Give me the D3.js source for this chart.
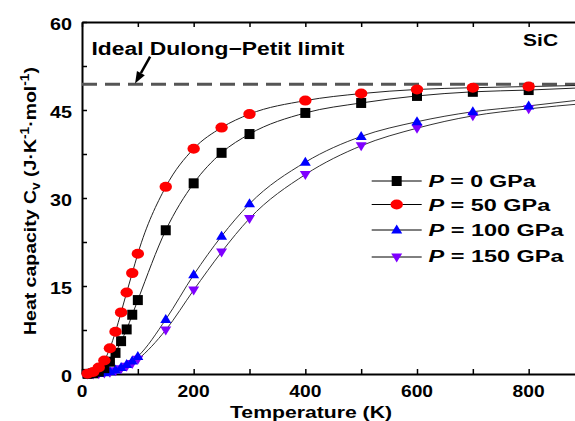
<!DOCTYPE html>
<html>
<head>
<meta charset="utf-8">
<script src="https://cdn.jsdelivr.net/npm/d3@7/dist/d3.min.js"></script>
<style>
html,body{margin:0;padding:0;background:#fff;}
svg{display:block;}
text{font-family:"Liberation Sans",Arial,sans-serif;font-weight:bold;fill:#000;}
</style>
</head>
<body>
<svg id="chart" width="575" height="421"></svg>
<script>
// ---------- data ----------
const temps = [10,20,30,40,50,60,70,80,90,100,150,200,250,300,400,500,600,700,800];
const cv0   = [0.02,0.12,0.4,1.0,2.1,3.6,5.6,7.6,10.1,12.6,24.5,32.5,37.7,40.9,44.5,46.2,47.4,48.1,48.4];
const cv50  = [0.05,0.35,1.1,2.3,4.4,7.2,10.5,13.9,17.2,20.5,31.9,38.4,42.0,44.3,46.6,47.8,48.5,48.8,49.0];
const cv100 = [0.0,0.02,0.08,0.2,0.4,0.7,1.1,1.6,2.2,3.0,9.3,16.9,23.5,29.0,36.1,40.5,43.0,44.7,45.7];
const cv150 = [0.0,0.01,0.06,0.15,0.3,0.55,0.9,1.3,1.8,2.5,7.5,14.3,20.8,26.5,34.0,38.9,41.9,44.0,45.2];
// fitted-curve end values at the right edge (T = 900 K)
const fitEnd = [48.8, 49.2, 46.8, 46.1];
const seriesNames = ["0","50","100","150"];
const xTicks = [0,100,200,300,400,500,600,700,800,900];
const xLabels = [0,200,400,600,800];
const yTicks = [0,7.5,15,22.5,30,37.5,45,52.5,60];
const yLabels = [0,15,30,45,60];
const dulongPetit = 49.4;

// ---------- layout ----------
const svg = d3.select("#chart");
const x = d3.scaleLinear().domain([0,900]).range([82, 584.5]);
const y = d3.scaleLinear().domain([0,60]).range([374, 22]);

const series = [
  {name:seriesNames[0], vals:cv0,   end:fitEnd[0], color:"#000000", shape:"square"},
  {name:seriesNames[1], vals:cv50,  end:fitEnd[1], color:"#ff0000", shape:"circle"},
  {name:seriesNames[2], vals:cv100, end:fitEnd[2], color:"#0000ff", shape:"up"},
  {name:seriesNames[3], vals:cv150, end:fitEnd[3], color:"#7f00ff", shape:"down"}
];

// ---------- axes ----------
const gx = svg.append("g").attr("transform",`translate(0,${y(0)})`)
  .call(d3.axisBottom(x).tickValues(xTicks).tickSizeInner(-5).tickSizeOuter(0).tickFormat(""));
const gxt = svg.append("g").attr("transform",`translate(0,${y(60)})`)
  .call(d3.axisTop(x).tickValues(xTicks).tickSizeInner(-5).tickSizeOuter(0).tickFormat(""));
const gy = svg.append("g").attr("transform",`translate(${x(0)},0)`)
  .call(d3.axisLeft(y).tickValues(yTicks).tickSizeInner(-5).tickSizeOuter(0).tickFormat(""));
[gx,gxt,gy].forEach(g=>{
  g.select(".domain").attr("stroke","#000").attr("stroke-width",2);
  g.selectAll(".tick line").attr("stroke","#000").attr("stroke-width",1.5);
});

// tick labels
svg.append("g").selectAll("text").data(xLabels).join("text")
  .attr("x",d=>x(d)).attr("y",396.5)
  .attr("text-anchor","middle").attr("font-size",17)
  .attr("textLength",d=>String(d).length*10.7).attr("lengthAdjust","spacingAndGlyphs")
  .text(d=>d);
svg.append("g").selectAll("text").data(yLabels).join("text")
  .attr("x",72).attr("y",d=>y(d)+8)
  .attr("text-anchor","end").attr("font-size",17)
  .attr("textLength",d=>String(d).length*11).attr("lengthAdjust","spacingAndGlyphs")
  .text(d=>d);

// axis titles
svg.append("text").attr("x",230).attr("y",418)
  .attr("font-size",17).attr("textLength",162).attr("lengthAdjust","spacingAndGlyphs")
  .text("Temperature (K)");

const yt = svg.append("text")
  .attr("transform","translate(36,201) rotate(-90)")
  .attr("text-anchor","middle").attr("font-size",17)
  .attr("textLength",268).attr("lengthAdjust","spacingAndGlyphs");
yt.append("tspan").text("Heat capacity C");
yt.append("tspan").attr("font-size",12).attr("dy",4).text("v");
yt.append("tspan").attr("dy",-4).text(" (J·K");
yt.append("tspan").attr("font-size",12).attr("dy",-7).text("-1");
yt.append("tspan").attr("dy",7).text("·mol");
yt.append("tspan").attr("font-size",12).attr("dy",-7).text("-1");
yt.append("tspan").attr("dy",7).text(")");

// ---------- Dulong-Petit line ----------
svg.append("line")
  .attr("x1",x(0)).attr("x2",x(900)).attr("y1",y(dulongPetit)).attr("y2",y(dulongPetit))
  .attr("stroke","#555").attr("stroke-width",3).attr("stroke-dasharray","15,8");

svg.append("text").attr("x",x(17)).attr("y",y(54.4))
  .attr("font-size",18).attr("textLength",253).attr("lengthAdjust","spacingAndGlyphs")
  .text("Ideal Dulong\u2212Petit limit");
svg.append("text").attr("x",x(790)).attr("y",y(55.9))
  .attr("font-size",17).attr("textLength",35).attr("lengthAdjust","spacingAndGlyphs")
  .text("SiC");

// arrow
const tail = [x(122), y(54.1)], tip = [x(95), y(dulongPetit+0.1)];
const dx = tip[0]-tail[0], dy = tip[1]-tail[1], L = Math.hypot(dx,dy);
const ux = dx/L, uy = dy/L, px = -uy, py = ux;
const hb = [tip[0]-12*ux, tip[1]-12*uy];
svg.append("line").attr("x1",tail[0]).attr("y1",tail[1]).attr("x2",hb[0]).attr("y2",hb[1])
  .attr("stroke","#000").attr("stroke-width",2.5);
svg.append("path").attr("fill","#000")
  .attr("d",`M${tip[0]},${tip[1]}L${hb[0]+4.5*px},${hb[1]+4.5*py}L${hb[0]-4.5*px},${hb[1]-4.5*py}Z`);

// ---------- curves ----------
const line = d3.line().x(d=>x(d[0])).y(d=>y(d[1])).curve(d3.curveMonotoneX);
const plot = svg.append("g");
series.forEach(s=>{
  const pts = [[0,0]].concat(temps.map((t,i)=>[t,s.vals[i]])).concat([[900,s.end]]);
  plot.append("path").attr("d",line(pts)).attr("fill","none")
    .attr("stroke", s.shape==="up"||s.shape==="down" ? "#333" : "#222").attr("stroke-width",1);
});

function drawMarker(g, shape, color, cx, cy){
  if(shape==="square"){
    g.append("rect").attr("x",cx-5).attr("y",cy-5).attr("width",10).attr("height",10).attr("fill",color);
  } else if(shape==="circle"){
    g.append("ellipse").attr("cx",cx).attr("cy",cy).attr("rx",6.2).attr("ry",5).attr("fill",color);
  } else if(shape==="up"){
    g.append("path").attr("fill",color)
      .attr("d",`M${cx},${cy-5.5}L${cx+5.5},${cy+3.5}L${cx-5.5},${cy+3.5}Z`);
  } else {
    g.append("path").attr("fill",color)
      .attr("d",`M${cx},${cy+5.5}L${cx+5.5},${cy-3.5}L${cx-5.5},${cy-3.5}Z`);
  }
}
// draw markers: lower series first so red/black lie on top
[3,2,0,1].forEach(k=>{
  const s = series[k];
  const g = plot.append("g");
  temps.forEach((t,i)=>drawMarker(g, s.shape, s.color, x(t), y(s.vals[i])));
});

// ---------- legend ----------
const legY = [181, 204.5, 230, 257];
const legBase = [186.5, 210.5, 236, 262];
const legW = [107, 121.7, 135, 135];
const lg = svg.append("g");
series.forEach((s,i)=>{
  lg.append("line").attr("x1",371.7).attr("x2",421.7).attr("y1",legY[i]).attr("y2",legY[i])
    .attr("stroke","#000").attr("stroke-width",1);
  drawMarker(lg, s.shape, s.color, 396.7, legY[i]);
  const t = lg.append("text").attr("x",428.5).attr("y",legBase[i]).attr("font-size",16)
    .attr("textLength",legW[i]).attr("lengthAdjust","spacingAndGlyphs");
  t.append("tspan").attr("font-style","italic").text("P");
  t.append("tspan").text(` = ${s.name} GPa`);
});
</script>
</body>
</html>
